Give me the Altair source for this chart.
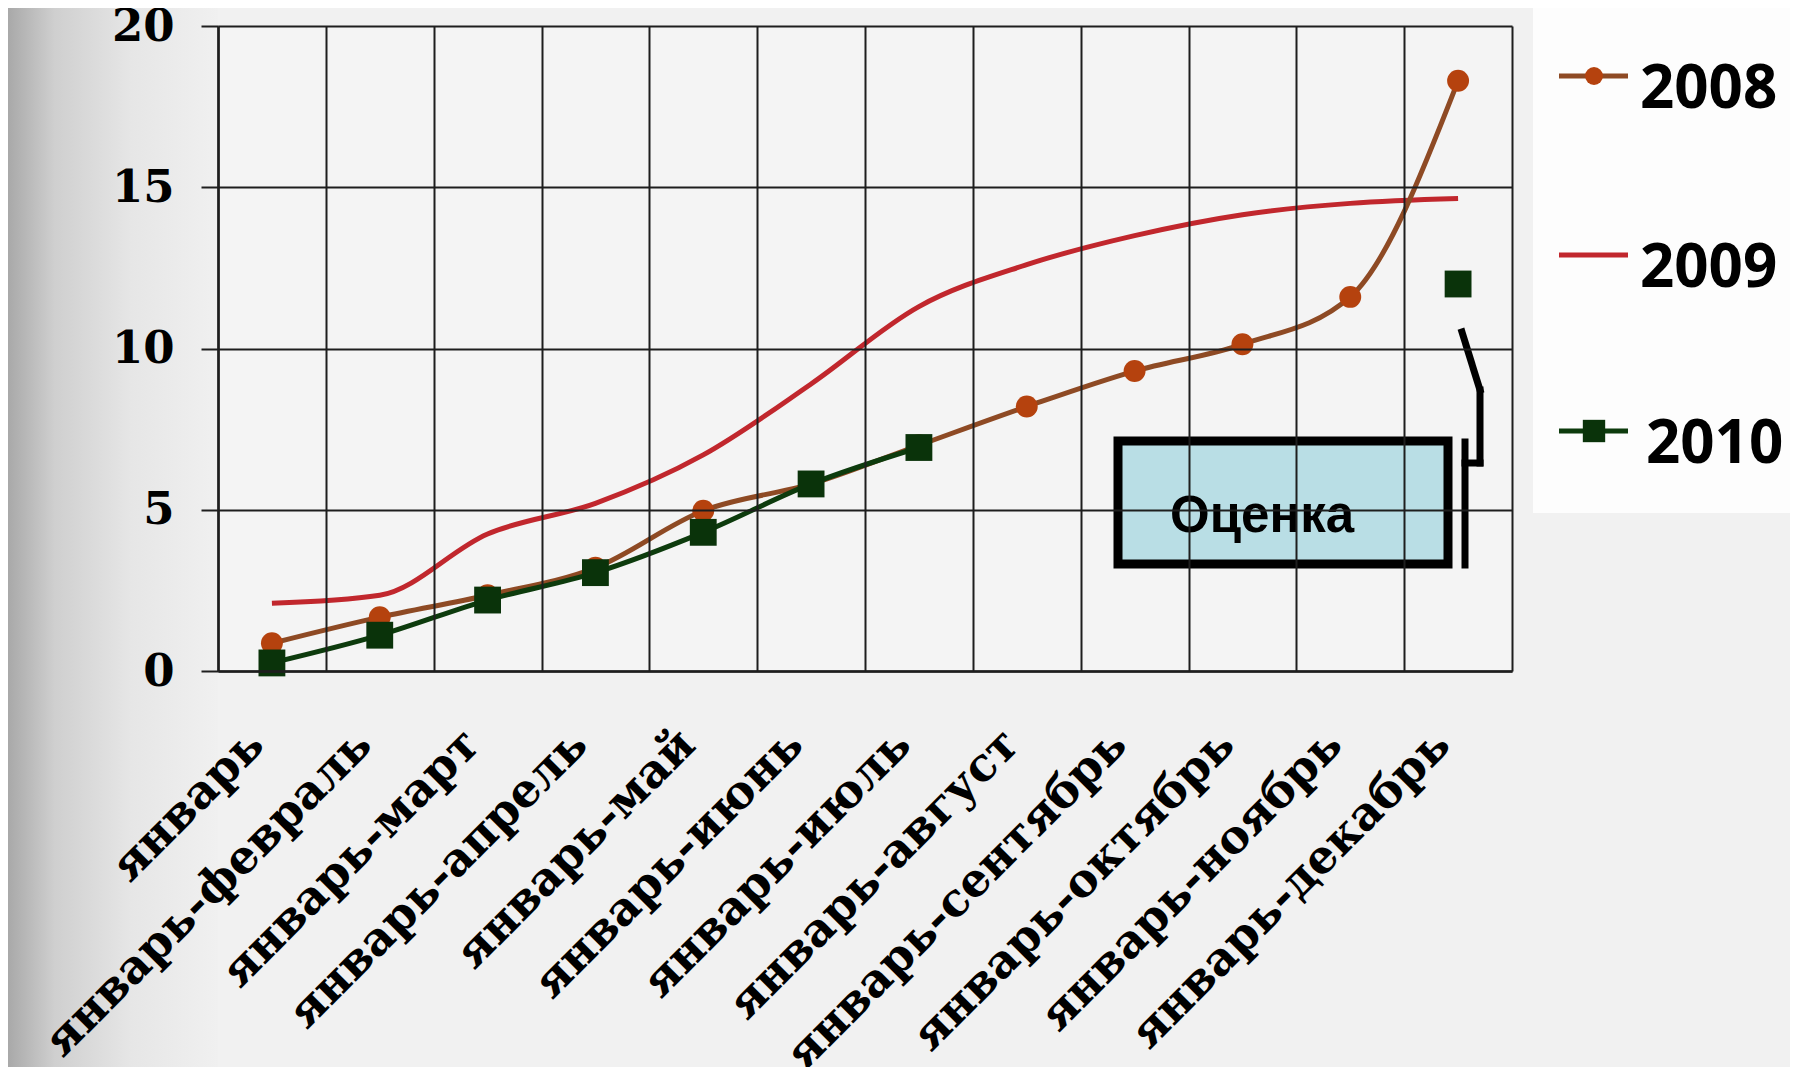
import altair as alt
import pandas as pd

months = ["январь", "январь-февраль", "январь-март", "январь-апрель", "январь-май",
          "январь-июнь", "январь-июль", "январь-август", "январь-сентябрь",
          "январь-октябрь", "январь-ноябрь", "январь-декабрь"]
series_names = ["2008", "2009", "2010"]
values_2008 = [0.86, 1.67, 2.35, 3.2, 4.97, 5.8, 7.0, 8.2, 9.3, 10.13, 11.6, 18.3]
values_2009 = [2.1, 2.35, 4.25, 5.2, 6.7, 8.9, 11.3, 12.6, 13.5, 14.15, 14.5, 14.65]
values_2010 = [0.25, 1.11, 2.2, 3.05, 4.3, 5.8, 6.93, None, None, None, None, 12.0]
estimate_month_2010 = "январь-декабрь"
y_ticks = [0, 5, 10, 15, 20]
note_text = "Оценка"

line_colors = {"2008": "#8E4A24", "2009": "#C1272D", "2010": "#0D3B0D"}
marker_colors = {"2008": "#B5420E", "2010": "#0A330A"}

rows = []
for name, vals in zip(series_names, [values_2008, values_2009, values_2010]):
    for m, v in zip(months, vals):
        if v is None:
            continue
        kind = "оценка" if (name == "2010" and m == estimate_month_2010) else "факт"
        rows.append({"month": m, "series": name, "value": v, "kind": kind})
df = pd.DataFrame(rows)

W, H = 1294, 645

x_enc = alt.X("month:N", sort=months, bandPosition=0.5,
              scale=alt.Scale(type="band", domain=months, paddingInner=0, paddingOuter=0),
              axis=alt.Axis(title=None, grid=True, tickBand="extent", ticks=False,
                            gridColor="#1e1e1e", gridWidth=2, gridOpacity=1,
                            domainColor="#1e1e1e", domainWidth=2.5,
                            labelAngle=-45, labelAlign="right", labelBaseline="middle",
                            labelFont="DejaVu Serif", labelFontWeight="bold", labelFontSize=46,
                            labelColor="#000000", labelPadding=66, labelOffset=-16,
                            labelOverlap=False, labelLimit=2000, zindex=1))
y_enc = alt.Y("value:Q", scale=alt.Scale(domain=[0, 20], nice=False, zero=True),
              axis=alt.Axis(title=None, values=y_ticks, grid=True,
                            gridColor="#1e1e1e", gridWidth=2, gridOpacity=1,
                            domainColor="#1e1e1e", domainWidth=2.5,
                            tickSize=17, tickColor="#1e1e1e", tickWidth=2,
                            labelFont="DejaVu Serif", labelFontWeight="bold", labelFontSize=45,
                            labelColor="#000000", labelPadding=27, zindex=1))

one = pd.DataFrame({"a": [0]})

# decorative left-side shading of the slide
bg_grad = alt.Chart(one).mark_rect(
    fill=alt.LinearGradient(gradient="linear", x1=0, x2=1, y1=0, y2=0,
                            stops=[alt.GradientStop(offset=0, color="#a2a2a2"),
                                   alt.GradientStop(offset=0.25, color="#cfcfcf"),
                                   alt.GradientStop(offset=0.6, color="#e6e6e6"),
                                   alt.GradientStop(offset=1, color="#f0f0f0")])
).encode(x=alt.value(-218), x2=alt.value(0), y=alt.value(-30), y2=alt.value(1100))

legend_bg = alt.Chart(one).mark_rect(fill="#fdfdfd").encode(
    x=alt.value(1315), x2=alt.value(1579), y=alt.value(-30), y2=alt.value(487))

base = alt.Chart(df)
line09 = base.transform_filter(alt.datum.series == "2009").mark_line(
    interpolate="monotone", strokeWidth=5, color=line_colors["2009"]).encode(x=x_enc, y=y_enc)
line08 = base.transform_filter(alt.datum.series == "2008").mark_line(
    interpolate="monotone", strokeWidth=5, color=line_colors["2008"]).encode(x=x_enc, y=y_enc)
pts08 = base.transform_filter(alt.datum.series == "2008").mark_point(
    shape="circle", filled=True, size=480, opacity=1, color=marker_colors["2008"]).encode(x=x_enc, y=y_enc)
line10 = base.transform_filter((alt.datum.series == "2010") & (alt.datum.kind == "факт")).mark_line(
    interpolate="monotone", strokeWidth=5, color=line_colors["2010"]).encode(x=x_enc, y=y_enc)
pts10 = base.transform_filter(alt.datum.series == "2010").mark_point(
    shape="square", filled=True, size=720, opacity=1, color=marker_colors["2010"]).encode(x=x_enc, y=y_enc)

# annotation box "Оценка" with its bracket
note_box = alt.Chart(one).mark_rect(fill="#B9DEE5", stroke="#000000", strokeWidth=9).encode(
    x=alt.value(900), x2=alt.value(1230), y=alt.value(415), y2=alt.value(538))
note_lbl = alt.Chart(pd.DataFrame({"t": [note_text]})).mark_text(
    font="Liberation Sans", fontWeight="bold", fontSize=51, align="left", baseline="alphabetic",
    color="#000000").encode(x=alt.value(952), y=alt.value(506), text="t:N")
seg_style = dict(color="#000000", strokeWidth=7, strokeCap="square")
bracket = [
    alt.Chart(one).mark_rule(**seg_style).encode(x=alt.value(1244), x2=alt.value(1262), y=alt.value(306), y2=alt.value(364)),
    alt.Chart(one).mark_rule(**seg_style).encode(x=alt.value(1262), x2=alt.value(1262), y=alt.value(364), y2=alt.value(437)),
    alt.Chart(one).mark_rule(**seg_style).encode(x=alt.value(1247), x2=alt.value(1262), y=alt.value(437), y2=alt.value(437)),
    alt.Chart(one).mark_rule(**seg_style).encode(x=alt.value(1247), x2=alt.value(1247), y=alt.value(416), y2=alt.value(539)),
]

# legend
legend_layers = []
leg_line_y = [50, 229, 405]
leg_text_y = [82, 261, 437]
leg_text_x = [1422, 1422, 1428]
leg_shapes = {"2008": ("circle", 320), "2010": ("square", 500)}
for i, name in enumerate(series_names):
    legend_layers.append(alt.Chart(one).mark_rule(color=line_colors[name], strokeWidth=5).encode(
        x=alt.value(1341), x2=alt.value(1410), y=alt.value(leg_line_y[i])))
    if name in leg_shapes:
        shp, sz = leg_shapes[name]
        legend_layers.append(alt.Chart(one).mark_point(
            shape=shp, filled=True, size=sz, opacity=1, color=marker_colors[name]).encode(
            x=alt.value(1376), y=alt.value(leg_line_y[i])))
    legend_layers.append(alt.Chart(pd.DataFrame({"series": [name]})).mark_text(
        font="Open Sans", fontWeight="bold", fontSize=60, align="left", baseline="alphabetic",
        color="#000000").encode(x=alt.value(leg_text_x[i]), y=alt.value(leg_text_y[i]), text="series:N"))

chart = alt.layer(
    bg_grad, legend_bg, line09, line08, pts08, line10, pts10,
    note_box, note_lbl, *bracket, *legend_layers
).properties(
    width=W, height=H,
    autosize=alt.AutoSizeParams(type="none"),
    padding={"left": 210, "top": 18, "right": 278, "bottom": 396},
    background="#f1f1f1"
).configure_view(fill="#f4f4f4", stroke=None)

chart.save("out.html", embed_options={"renderer": "svg", "actions": False})
